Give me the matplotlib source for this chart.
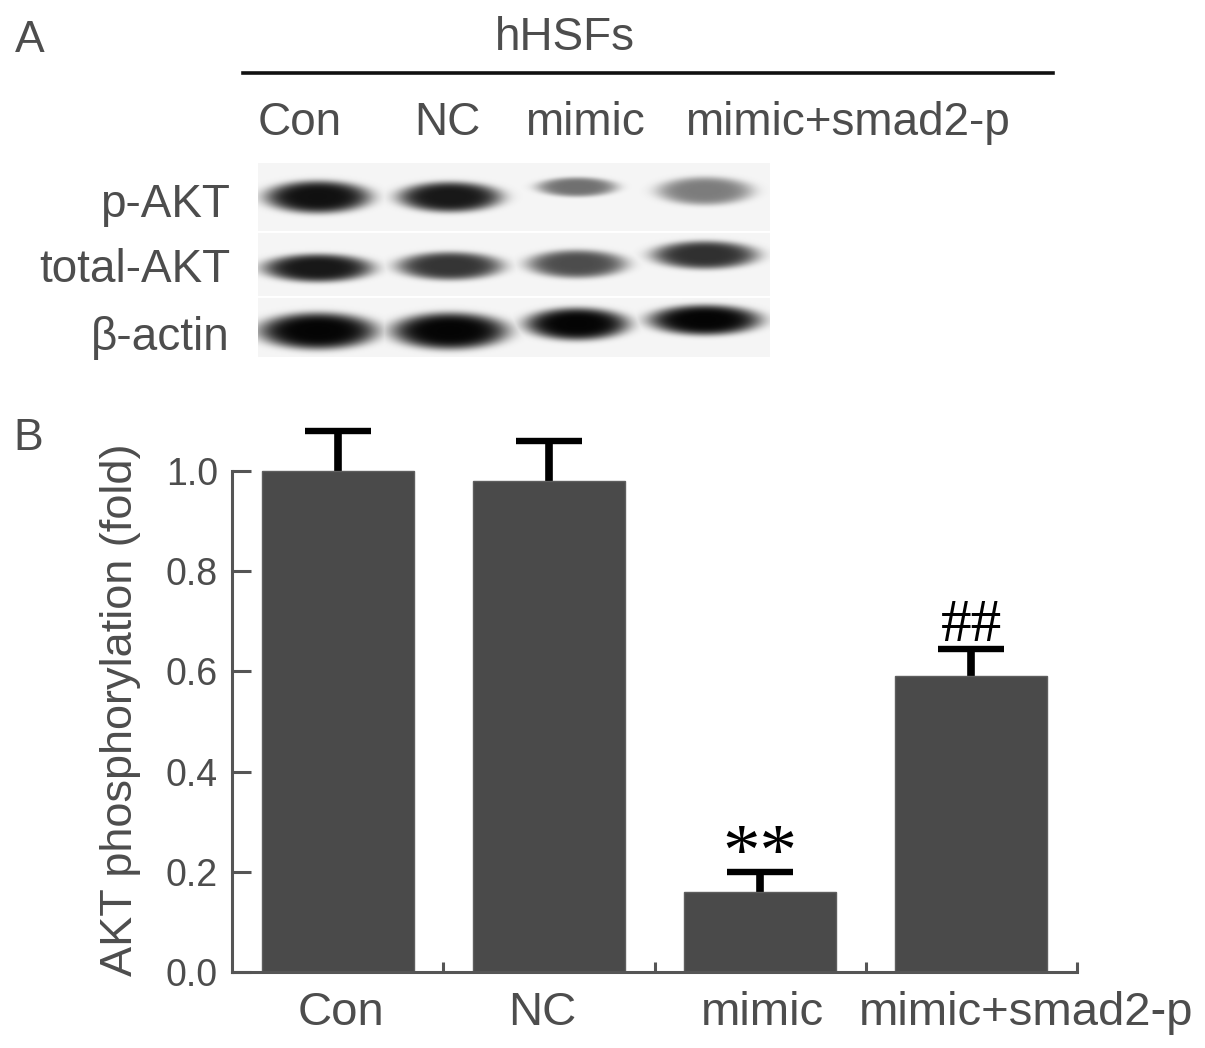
import numpy as np
import matplotlib
matplotlib.use('Agg')
import matplotlib.pyplot as plt
from matplotlib.transforms import ScaledTranslation

# bar chart values (panel B)
groups = ['Con', 'NC', 'mimic', 'mimic+smad2-p']
akt_fold = [1.0, 0.98, 0.16, 0.59]
akt_err = [0.08, 0.08, 0.04, 0.055]
marks = ['', '', '**', '##']
y_ticks = [0.0, 0.2, 0.4, 0.6, 0.8, 1.0]

# western blot band densities (panel A), one value per lane
blot_rows = ['p-AKT', 'total-AKT', 'β-actin']
p_akt = [0.95, 0.92, 0.55, 0.50]
total_akt = [0.92, 0.80, 0.70, 0.82]
beta_actin = [1.0, 1.0, 1.0, 1.0]

W, H = 1205, 1048
TXT = '#4d4d4d'
plt.rcParams['font.family'] = ['Liberation Sans', 'DejaVu Sans']

fig = plt.figure(figsize=(W / 100, H / 100), dpi=100)


def box(x0, y0, x1, y1):
    # pixel box (top-left origin) -> figure fraction rect
    return [x0 / W, 1 - y1 / H, (x1 - x0) / W, (y1 - y0) / H]


# ---------------- panel A ----------------
fig.text(30 / W, 1 - 40 / H, 'A', fontsize=32, color=TXT, ha='center', va='center')
fig.text(565 / W, 1 - 38 / H, 'hHSFs', fontsize=33, color=TXT, ha='center', va='center')
fig.add_artist(plt.Line2D([243 / W, 1053 / W], [1 - 73 / H, 1 - 73 / H],
                          color='#111111', lw=2.6))
for name, xc in zip(groups, [300, 447, 585, 847]):
    fig.text(xc / W, 1 - 123 / H, name, fontsize=33, color=TXT, ha='center', va='center')
for name, yc in zip(blot_rows, [205, 270, 338]):
    fig.text(230 / W, 1 - yc / H, name, fontsize=33, color=TXT, ha='right', va='center')

# blot image
bx0, by0, bx1, by1 = 258, 163, 770, 357
xs = np.arange(bx0, bx1) + 0.5
ys = np.arange(by0, by1) + 0.5
X, Y = np.meshgrid(xs, ys)
img = np.ones_like(X)
strips = [(163, 231), (233, 296), (298, 357)]
for s0, s1 in strips:
    img[(Y > s0) & (Y < s1)] = 0.96

lane_x = [318, 450, 577, 705]
row_y = [197, 266, 328]
dy = [[0, 0, -10, -6], [2, 0, -2, -11], [3, 3, -4, -8]]
half_w = [[49, 48, 37, 44], [51, 49, 46, 49], [55, 54, 48, 52]]
half_h = [[15, 14, 9, 13], [13, 13, 13, 13], [17, 17, 15, 14]]
dark = np.zeros_like(X)
for r, levels in enumerate([p_akt, total_akt, beta_actin]):
    for k, lv in enumerate(levels):
        rr = np.sqrt(((X - lane_x[k]) / half_w[r][k]) ** 2 +
                     ((Y - row_y[r] - dy[r][k]) / half_h[r][k]) ** 2)
        dark = np.maximum(dark, lv * np.exp(-np.log(2) * rr ** 5))
img = img * (1 - 0.98 * dark)

ax_b = fig.add_axes(box(bx0, by0, bx1, by1))
ax_b.imshow(img, cmap='gray', vmin=0, vmax=1, aspect='auto',
            extent=(bx0, bx1, by1, by0), interpolation='bilinear')
ax_b.axis('off')

# ---------------- panel B ----------------
fig.text(28 / W, 1 - 438 / H, 'B', fontsize=32, color=TXT, ha='center', va='center')

ax = fig.add_axes(box(232, 471, 1077, 972))
x = np.arange(len(groups))
ax.bar(x, akt_fold, width=0.72, color='#4a4a4a', edgecolor='#5e5e5e',
       linewidth=1, zorder=2, clip_on=False)
# error bars sit behind the bars so only the upper half shows
ax.errorbar(x, akt_fold, yerr=akt_err, fmt='none', ecolor='black',
            elinewidth=5.5, capsize=23.5, capthick=4.6, zorder=1, clip_on=False)
mark_size = {'**': 54, '##': 44}
mark_gap = {'**': 0.03, '##': 0.045}
for xi, v, e, m in zip(x, akt_fold, akt_err, marks):
    if m:
        ax.text(xi, v + e + mark_gap[m], m, fontsize=mark_size[m], family='Liberation Serif',
                ha='center', va='center', color='black')

ax.set_xlim(-0.5, len(groups) - 0.5)
ax.set_ylim(0, 1.0)
for s in ['top', 'right']:
    ax.spines[s].set_visible(False)
for s in ['left', 'bottom']:
    ax.spines[s].set_color('#555555')
    ax.spines[s].set_linewidth(2.2)

ax.set_yticks(y_ticks)
ax.set_yticklabels(['%.1f' % t for t in y_ticks])
ax.tick_params(axis='y', direction='in', length=14, width=2.2, color='#555555',
               labelsize=27, labelcolor=TXT, pad=10)

ax.set_xticks(x + 0.5)
ax.set_xticklabels([])
ax.tick_params(axis='x', which='major', direction='in', length=7, width=2.2,
               color='#555555')
ax.set_xticks(x, minor=True)
ax.set_xticklabels(groups, minor=True)
ax.tick_params(axis='x', which='minor', length=0, labelsize=34, labelcolor=TXT, pad=14)
for lab, off in zip(ax.get_xticklabels(minor=True), [3, -7, 2, 55]):
    lab.set_transform(lab.get_transform() + ScaledTranslation(off / 100, 0, fig.dpi_scale_trans))

fig.text(121 / W, 1 - 710 / H, 'AKT phosphorylation (fold)', fontsize=32.5, color=TXT,
         rotation=90, ha='center', va='center')

fig.savefig('out.png', dpi=100)
